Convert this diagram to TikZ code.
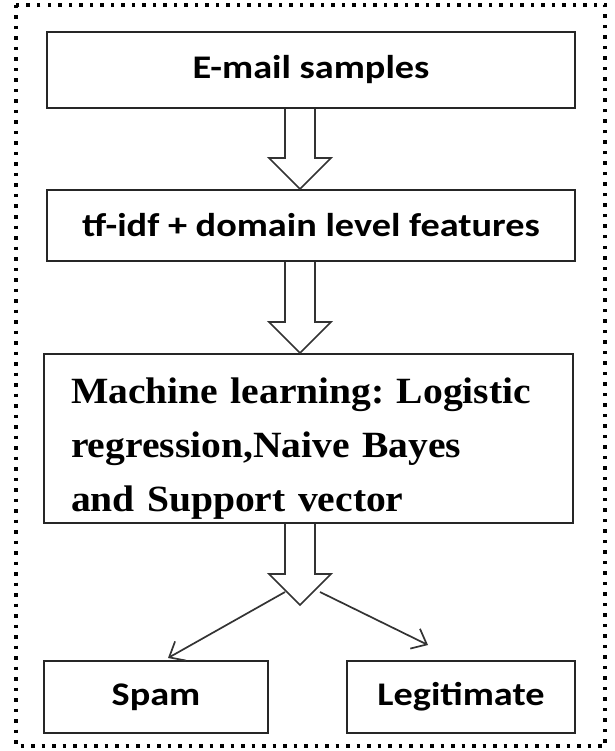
\documentclass[tikz,border=0pt]{standalone}
\usepackage{fontspec}
\setmainfont{Carlito}
\newfontfamily\boxsans[FakeStretch=1.16]{Carlito}
\newfontfamily\boxserif[FakeStretch=1.07]{Liberation Serif}
\usetikzlibrary{arrows.meta, calc}

% hollow block arrow from a box edge to a tip
\newcommand{\fatarrow}[2]{%
  \draw[fat] ($(#1)+(-15,0)$) -- ($(#2)+(-15,-31)$) -- ($(#2)+(-31,-31)$)
    -- (#2) -- ($(#2)+(31,-31)$) -- ($(#2)+(15,-31)$) -- ($(#1)+(15,0)$);}

\begin{document}
\begin{tikzpicture}[
    x=1pt, y=-1pt,
    box/.style={
        rectangle,
        draw=black!85,
        line width=2pt,
        inner sep=0pt,
        align=center,
        font=\boxsans\bfseries\fontsize{33}{40}\selectfont
    },
    fat/.style={
        draw=black!80,
        line width=1.7pt,
        line join=miter
    },
    branch/.style={
        -{Straight Barb[length=13pt, width=22pt]},
        draw=black!80,
        line width=1.7pt
    },
    dotframe/.style={
        line width=3.5pt,
        dash pattern=on 3.5pt off 7pt
    }
]
\useasboundingbox (0,0) rectangle (614,751);

% outer dotted frame
\draw[dotframe] (16,5) rectangle (605,746);

% === Boxes ===
\node[box, minimum width=528pt, minimum height=76pt] (mail) at (311,70) {E-mail samples};
\node[box, minimum width=528pt, minimum height=71pt] (tf) at (311,225.5) {tf-idf + domain level features};
\node[box, minimum width=529pt, minimum height=169pt, text width=475pt, align=left,
      font=\boxserif\bfseries\frenchspacing\fontsize{37}{54}\selectfont] (ml) at (308.5,438.5)
      {\rule{0pt}{45pt}Machine learning: Logistic\\regression,Naive Bayes\\and Support vector};
\node[box, minimum width=224pt, minimum height=72pt] (spam) at (156,697) {Spam};
\node[box, minimum width=228pt, minimum height=72pt] (legit) at (461,697) {Legitimate};

% === Block arrows ===
\coordinate (axis) at (300,0);
\coordinate (fork) at (300,605);
\fatarrow{mail.south -| axis}{tf.north -| axis}
\fatarrow{tf.south -| axis}{ml.north -| axis}
\fatarrow{ml.south -| axis}{fork}

% === Split into classes ===
\coordinate (outL) at (285,592);
\coordinate (outR) at (320,592);
\draw[branch] (outL) -- ($(spam.north)+(12,-2)$);
\draw[branch] (outR) -- ($(legit.north)+(-33,-15)$);

\end{tikzpicture}
\end{document}
